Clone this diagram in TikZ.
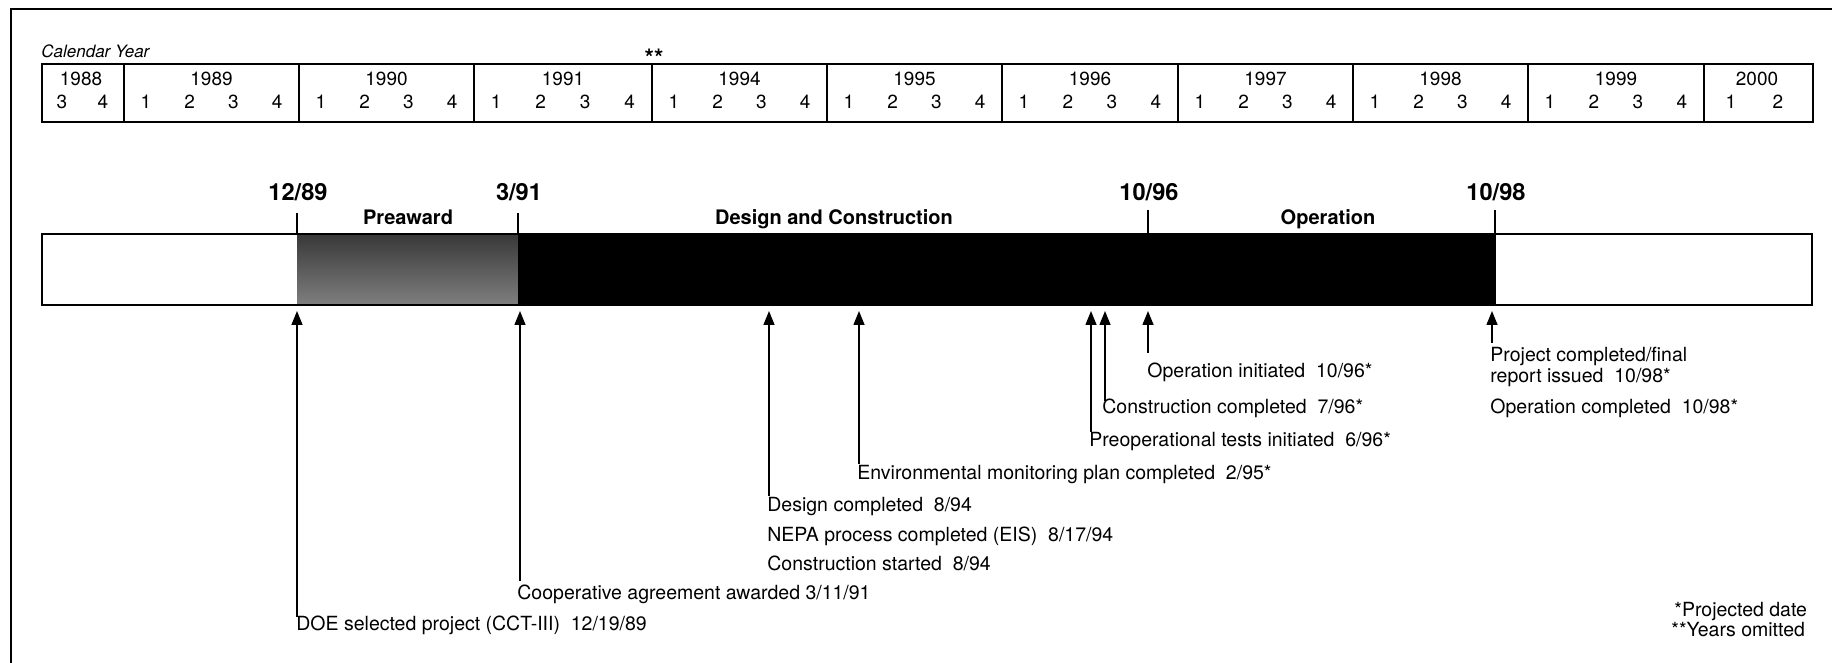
\documentclass[tikz,border=0pt]{standalone}
\usepackage{fontspec}
\setmainfont{TeX Gyre Heros}
\usetikzlibrary{arrows.meta}
\begin{document}
\begin{tikzpicture}[x=0.5pt,y=-0.5pt,
  body/.style={font=\fontsize{9.75}{12}\selectfont, inner sep=0pt, anchor=base west},
  datelbl/.style={font=\fontsize{11.8}{14}\selectfont\bfseries, inner sep=0pt, anchor=base},
  phase/.style={font=\fontsize{10}{12}\selectfont\bfseries, inner sep=0pt, anchor=base},
  tbl/.style={font=\fontsize{9.5}{11}\selectfont, inner sep=0pt, anchor=base},
  arr/.style={line width=0.75pt, -{Triangle[length=7pt,width=5.5pt]}},
  tickln/.style={line width=0.6pt}]
\useasboundingbox (0,0) rectangle (1832,663);
% frame
\draw[line width=1.2pt] (1832,9) -- (11,9) -- (11,663);
% header
\node[anchor=base west, font=\fontsize{8.5}{10}\selectfont\itshape, inner sep=0pt] (cal) at (41,58) {Calendar Year};
\node[anchor=base, font=\fontsize{12}{14}\selectfont\bfseries, inner sep=0pt] (omit) at (654,67) {**};
% year table
\draw[line width=1pt] (42,64) rectangle (1813,122);
\foreach \x in {124,299,474,652,827,1002,1178,1353,1528,1704}
  \draw[line width=0.8pt] (\x,64) -- (\x,122);
\node[tbl] (y1988) at (81,86) {1988};
\node[tbl] (q1988c) at (62,109) {3};
\node[tbl] (q1988d) at (103,109) {4};
\foreach \yr/\L/\R in {1989/124/299,1990/299/474,1991/474/652,1994/652/827,1995/827/1002,1996/1002/1178,1997/1178/1353,1998/1353/1528,1999/1528/1704}{
  \node[tbl] (y\yr) at ({(\L+\R)/2},86) {\yr};
  \foreach \q in {1,2,3,4}
    \node[tbl] (q\yr\q) at ({\L+(\q-0.5)*(\R-\L)/4},109) {\q};
}
\node[tbl] (y2000) at (1757,86) {2000};
\node[tbl] (q2000a) at (1731,109) {1};
\node[tbl] (q2000b) at (1778,109) {2};
% timeline bar
\shade[top color=black!78, bottom color=black!50] (297,234) rectangle (518,305);
\fill[black] (518,234) rectangle (1496,305);
\draw[line width=1.3pt] (42,234) rectangle (1812,305);
% ticks and dates
\draw[tickln] (297,213) -- (297,234);
\draw[tickln] (518,213) -- (518,234);
\draw[tickln] (1148,210) -- (1148,234);
\draw[tickln] (1495,210) -- (1495,234);
\node[datelbl] (d1) at (298,201) {12/89};
\node[datelbl] (d2) at (519,201) {3/91};
\node[datelbl] (d3) at (1149,201) {10/96};
\node[datelbl] (d4) at (1496,201) {10/98};
\node[phase] (p1) at (408,225) {Preaward};
\node[phase] (p2) at (834,225) {Design and Construction};
\node[phase] (p3) at (1328,225) {Operation};
% milestone labels
\node[body] (m1) at (296,630) {DOE selected project (CCT-III)\ \ 12/19/89};
\node[body] (m2) at (517,599) {Cooperative agreement awarded 3/11/91};
\node[body] (m3) at (767,511) {Design completed\ \ 8/94};
\node[body] (m3b) at (767,541) {NEPA process completed (EIS)\ \ 8/17/94};
\node[body] (m3c) at (767,570) {Construction started\ \ 8/94};
\node[body] (m4) at (857,479) {Environmental monitoring plan completed\ \ 2/95*};
\node[body] (m5) at (1089,446) {Preoperational tests initiated\ \ 6/96*};
\node[body] (m6) at (1102,414) {Construction completed\ \ 7/96*};
\node[body] (m7) at (1147,378) {Operation initiated\ \ 10/96*};
\node[body] (m8) at (1490,362) {Project completed/final};
\node[body] (m8b) at (1490,383) {report issued\ \ 10/98*};
\node[body] (m9) at (1490,414) {Operation completed\ \ 10/98*};
\node[body] (fn1) at (1674,616) {*Projected date};
\node[body] (fn2) at (1671,636) {**Years omitted};
% arrow coordinates
\coordinate (t1) at (297,311);  \coordinate (b1) at (297,617);
\coordinate (t2) at (520,311);  \coordinate (b2) at (520,581);
\coordinate (t3) at (769,311);  \coordinate (b3) at (769,496);
\coordinate (t4) at (859,311);  \coordinate (b4) at (859,464);
\coordinate (t5) at (1091,311); \coordinate (b5) at (1091,432);
\coordinate (t6) at (1105,311); \coordinate (b6) at (1105,401);
\coordinate (t7) at (1148,311); \coordinate (b7) at (1148,353);
\coordinate (t8) at (1492,311); \coordinate (b8) at (1492,343);
\foreach \i in {1,...,8} \draw[arr] (b\i) -- (t\i);
\end{tikzpicture}
\end{document}
